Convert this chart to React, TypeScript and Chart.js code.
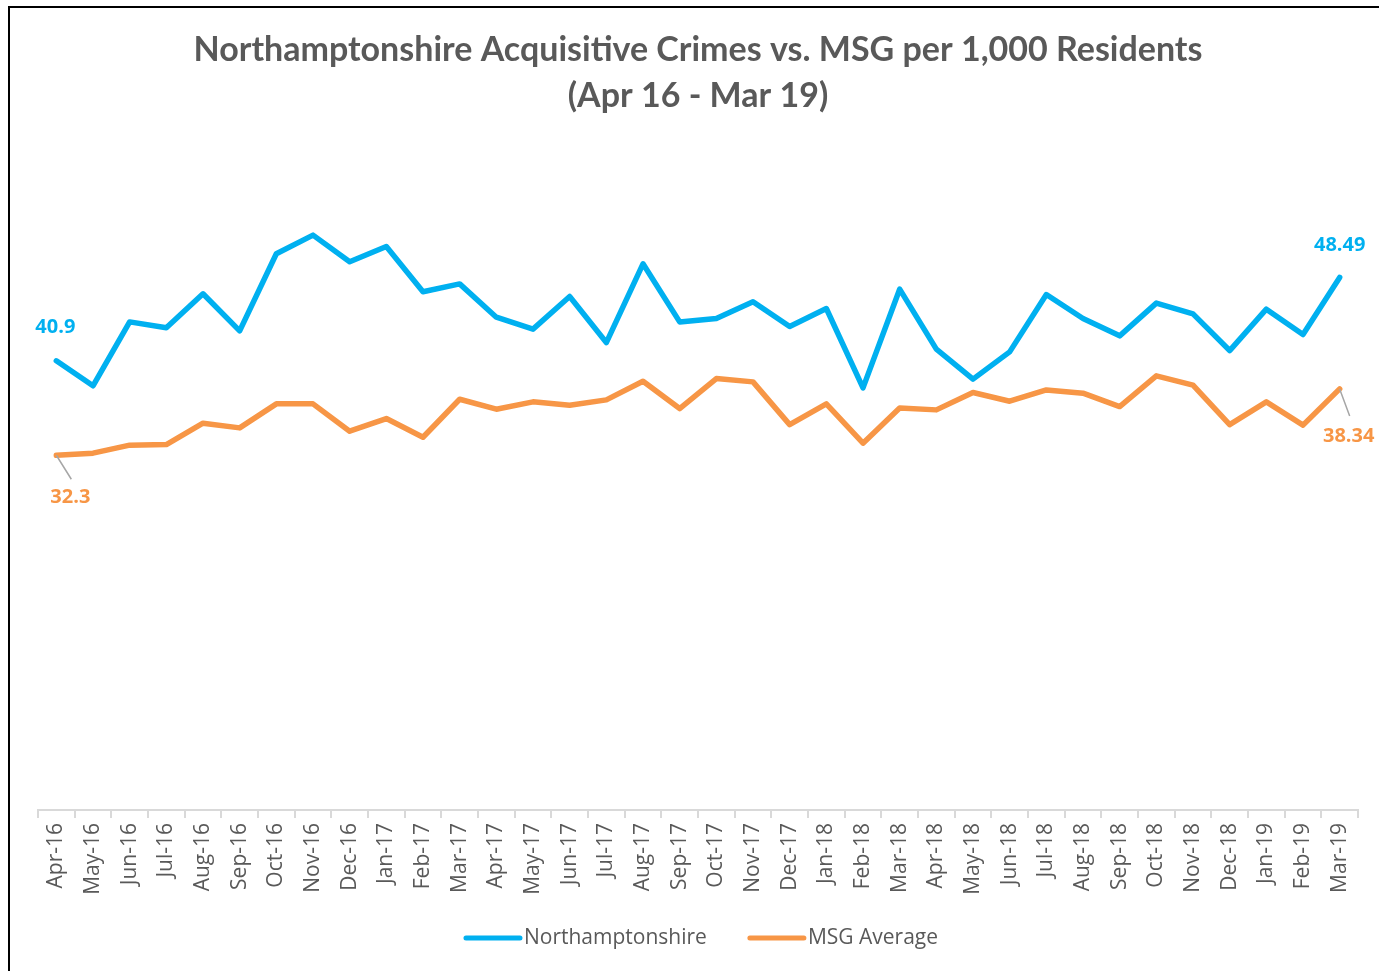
import React, { useEffect, useRef } from "react";
import { Chart, registerables } from "chart.js";

Chart.register(...registerables);

const months = [
  "Apr-16", "May-16", "Jun-16", "Jul-16", "Aug-16", "Sep-16", "Oct-16", "Nov-16", "Dec-16",
  "Jan-17", "Feb-17", "Mar-17", "Apr-17", "May-17", "Jun-17", "Jul-17", "Aug-17", "Sep-17",
  "Oct-17", "Nov-17", "Dec-17", "Jan-18", "Feb-18", "Mar-18", "Apr-18", "May-18", "Jun-18",
  "Jul-18", "Aug-18", "Sep-18", "Oct-18", "Nov-18", "Dec-18", "Jan-19", "Feb-19", "Mar-19",
];

const northamptonshire = [
  40.9, 38.62, 44.44, 43.9, 47.0, 43.62, 50.64, 52.34, 49.91,
  51.3, 47.18, 47.9, 44.87, 43.78, 46.75, 42.56, 49.73, 44.44,
  44.75, 46.27, 44.02, 45.66, 38.43, 47.42, 41.96, 39.23, 41.71,
  46.93, 44.75, 43.17, 46.15, 45.17, 41.83, 45.6, 43.29, 48.49,
];

const msgAverage = [
  32.3, 32.49, 33.22, 33.27, 35.22, 34.79, 36.98, 36.98, 34.49,
  35.64, 33.94, 37.4, 36.49, 37.16, 36.86, 37.34, 39.04, 36.55,
  39.28, 38.98, 35.09, 36.98, 33.4, 36.61, 36.43, 38.01, 37.22,
  38.25, 37.95, 36.73, 39.53, 38.68, 35.09, 37.16, 35.04, 38.34,
];

const titleLines = [
  "Northamptonshire Acquisitive Crimes vs. MSG per 1,000 Residents",
  "(Apr 16 - Mar 19)",
];

const BLUE = "#00B0F0";
const ORANGE = "#F79646";
const GREY_TEXT = "#595959";
const LEGEND_FONT = "21px 'Open Sans'";

const endLabels = {
  id: "endLabels",
  afterDatasetsDraw(chart: any) {
    const ctx = chart.ctx;
    const m0 = chart.getDatasetMeta(0).data;
    const m1 = chart.getDatasetMeta(1).data;
    const n = m0.length - 1;
    ctx.save();
    ctx.font = "bold 20px 'Open Sans'";
    ctx.textAlign = "center";
    ctx.textBaseline = "middle";
    ctx.fillStyle = BLUE;
    ctx.fillText(String(northamptonshire[0]), m0[0].x - 1, m0[0].y - 33);
    ctx.fillText(northamptonshire[n].toFixed(2), m0[n].x, m0[n].y - 32);
    ctx.strokeStyle = "#A6A6A6";
    ctx.lineWidth = 1.5;
    ctx.beginPath();
    ctx.moveTo(m1[0].x, m1[0].y);
    ctx.lineTo(m1[0].x + 15, m1[0].y + 24);
    ctx.moveTo(m1[n].x, m1[n].y);
    ctx.lineTo(m1[n].x + 10, m1[n].y + 27);
    ctx.stroke();
    ctx.fillStyle = ORANGE;
    ctx.fillText(String(msgAverage[0]), m1[0].x + 14, m1[0].y + 42);
    ctx.fillText(msgAverage[n].toFixed(2), m1[n].x + 9, m1[n].y + 47);
    ctx.restore();
  },
};

// Legend drawn by a plugin: a 58px line followed closely by the label
const lineLegend = {
  id: "lineLegend",
  afterDraw(chart: any) {
    const ctx = chart.ctx;
    const sets = chart.data.datasets;
    const lineW = 58;
    const gapText = 2;
    const gapItem = 41;
    ctx.save();
    ctx.font = LEGEND_FONT;
    const widths = sets.map((d: any) => lineW + gapText + ctx.measureText(d.label).width);
    const total = widths.reduce((a: number, b: number) => a + b, 0) + gapItem * (sets.length - 1);
    let x = 701 - total / 2;
    const y = chart.height - 33;
    sets.forEach((d: any, i: number) => {
      ctx.strokeStyle = d.borderColor;
      ctx.lineWidth = 5;
      ctx.lineCap = "round";
      ctx.beginPath();
      ctx.moveTo(x + 2, y);
      ctx.lineTo(x + lineW - 2, y);
      ctx.stroke();
      ctx.fillStyle = GREY_TEXT;
      ctx.textAlign = "left";
      ctx.textBaseline = "middle";
      ctx.fillText(d.label, x + lineW + gapText, y);
      x += widths[i] + gapItem;
    });
    ctx.restore();
  },
};

export default function App() {
  const ref = useRef<HTMLCanvasElement | null>(null);

  useEffect(() => {
    if (!ref.current) return;
    const chart = new Chart(ref.current, {
      type: "line",
      data: {
        labels: months,
        datasets: [
          {
            label: "Northamptonshire",
            data: northamptonshire,
            borderColor: BLUE,
            backgroundColor: BLUE,
            borderWidth: 5.5,
            pointRadius: 0,
            pointHoverRadius: 0,
            tension: 0,
            borderJoinStyle: "round",
            borderCapStyle: "round",
          },
          {
            label: "MSG Average",
            data: msgAverage,
            borderColor: ORANGE,
            backgroundColor: ORANGE,
            borderWidth: 5.5,
            pointRadius: 0,
            pointHoverRadius: 0,
            tension: 0,
            borderJoinStyle: "round",
            borderCapStyle: "round",
          },
        ],
      },
      options: {
        animation: false,
        responsive: false,
        maintainAspectRatio: false,
        layout: { padding: { left: 38, right: 21, top: 0, bottom: 53 } },
        plugins: {
          title: {
            display: true,
            text: titleLines,
            color: GREY_TEXT,
            font: { family: "Lato", weight: "bold", size: 34, lineHeight: 46 / 34 },
            padding: { top: 27, bottom: 32 },
          },
          legend: { display: false },
          tooltip: { enabled: false },
        },
        scales: {
          x: {
            offset: true,
            grid: {
              offset: true,
              drawOnChartArea: false,
              drawTicks: true,
              tickLength: 8,
              color: "#D9D9D9",
              lineWidth: 2,
            },
            border: { display: true, color: "#D9D9D9", width: 2 },
            ticks: {
              autoSkip: false,
              minRotation: 90,
              maxRotation: 90,
              padding: 5,
              color: GREY_TEXT,
              font: { family: "'Open Sans'", size: 21 },
            },
            afterFit: (scale: any) => {
              scale.height = 108;
            },
          },
          y: {
            display: false,
            min: 0,
            max: 60,
          },
        },
      },
      plugins: [endLabels, lineLegend],
    });
    return () => chart.destroy();
  }, []);

  return (
    <>
      <div
        style={{
          position: "fixed",
          left: 8,
          top: 6,
          width: 1500,
          height: 1100,
          border: "2px solid #000",
          boxSizing: "border-box",
        }}
      />
      <canvas
        ref={ref}
        width={1379}
        height={971}
        style={{ position: "fixed", left: 0, top: 0, width: 1379, height: 971 }}
      />
    </>
  );
}
